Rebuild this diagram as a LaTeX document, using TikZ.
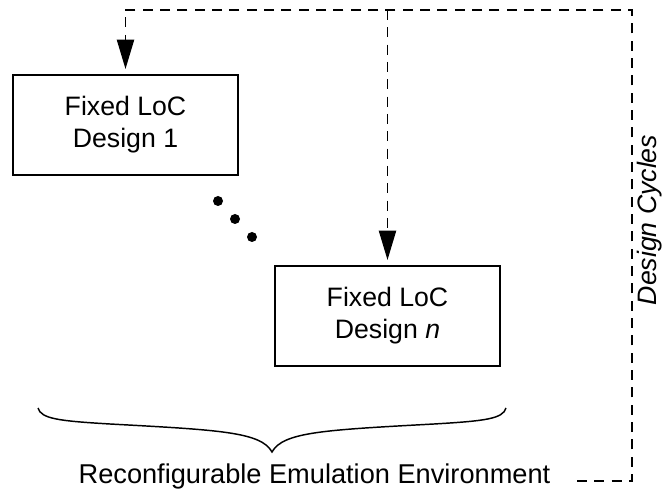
\documentclass[tikz,border=0pt]{standalone}
\usepackage{fontspec}
\setmainfont{Liberation Sans}
\usepackage{tikz}
\usetikzlibrary{arrows.meta,calc}
\tikzset{
  locbox/.style={draw,line width=1.1pt,minimum width=168.75pt,minimum height=75pt,inner sep=0pt,align=center,font=\fontsize{20}{24}\selectfont},
  bigtext/.style={inner sep=0pt,font=\fontsize{20.4}{24}\selectfont},
  cycleline/.style={line width=0.9pt,dash pattern=on 7.5pt off 5.5pt},
  cyclearrow/.style={cycleline,-{Triangle[length=22pt,width=13pt]},shorten >=4pt}
}

\begin{document}
\begin{tikzpicture}[x=0.75pt,y=-0.75pt]
\useasboundingbox (0,0) rectangle (668,495);
\node[locbox] (design1) at (125.5,125) {Fixed LoC\\Design 1};
\node[locbox] (designn) at (387.5,316) {Fixed LoC\\Design \textit{n}};
\fill (218,201) circle (3.75pt) (235,219) circle (3.75pt) (252,237) circle (3.75pt);
\coordinate (braceL) at (38,408);
\coordinate (braceR) at (506,408);
\coordinate (bracetip) at (272,452);
\draw[line width=1.1pt] (braceL) .. controls (41,419) and (60,421) .. (110,424)
  .. controls (220,430) and (261,432) .. (bracetip)
  .. controls (283,432) and (324,430) .. (434,424)
  .. controls (484,421) and (503,419) .. (braceR);
\node[bigtext,anchor=base] (env) at (314.5,483) {Reconfigurable Emulation Environment};
\node[bigtext,rotate=90,font=\fontsize{20}{24}\selectfont\itshape] (cycles) at (650,220) {Design Cycles};
\coordinate (loopstart) at (577,481);
\coordinate (loopcorner) at (632,481);
\coordinate (looptop) at (632,10);
\draw[cyclearrow] (loopstart) -- (loopcorner) -- (looptop) -- (design1.north |- looptop) -- (design1.north);
\draw[cyclearrow] (designn.north |- looptop) -- (designn.north);
\end{tikzpicture}
\end{document}
